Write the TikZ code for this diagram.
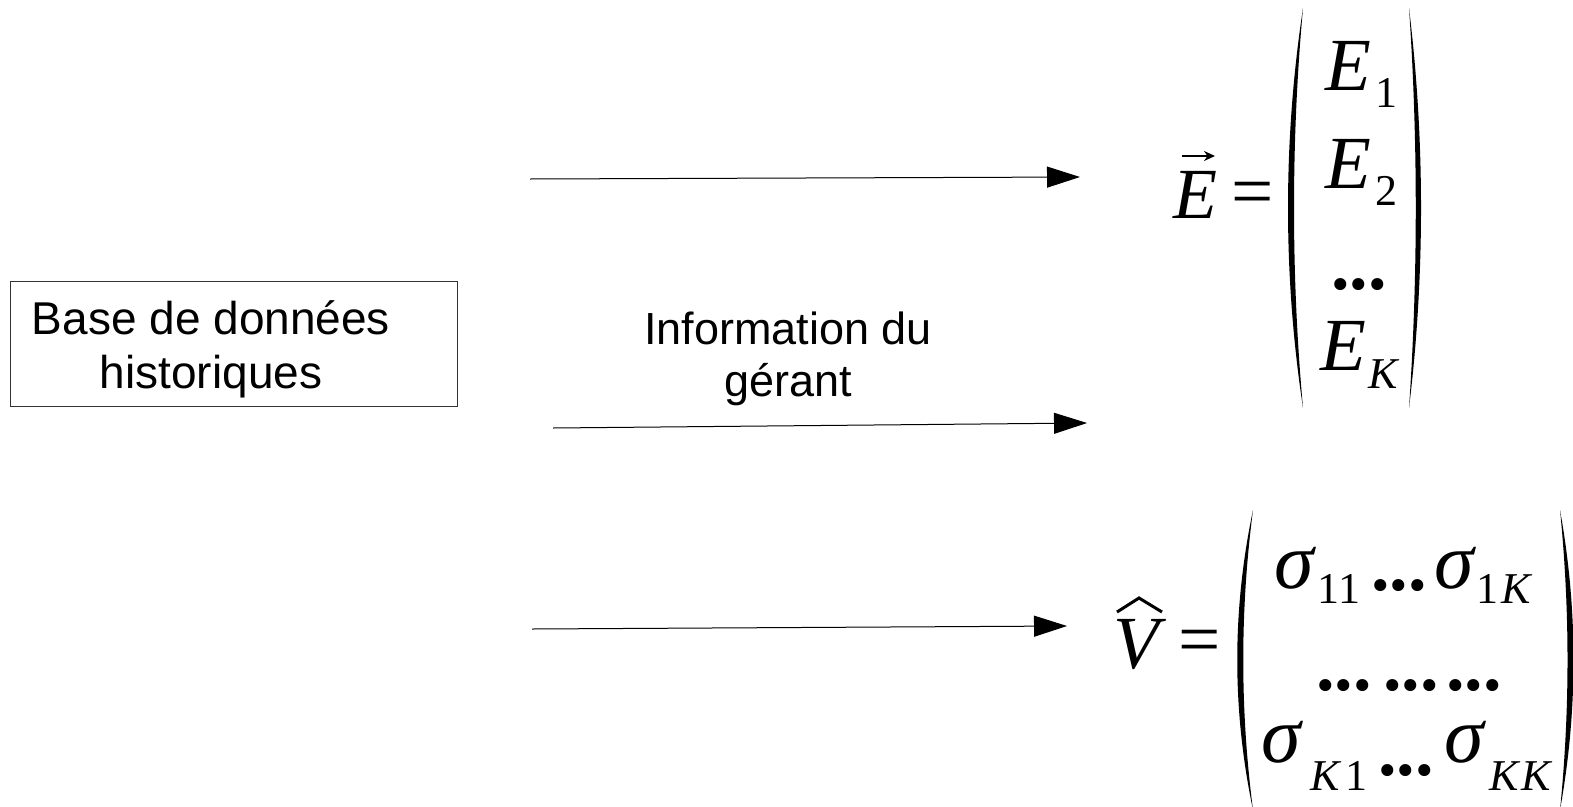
\documentclass[tikz,border=0pt]{standalone}
\usepackage{fontspec}
\setsansfont{Liberation Sans}
\newfontfamily\serifmath{Liberation Serif}
\usetikzlibrary{arrows.meta}

\newcommand{\bigit}[1]{{\fontsize{75}{75}\selectfont\itshape #1}}
\newcommand{\sig}{{\fontsize{80}{80}\selectfont\itshape σ}}
\newcommand{\lowsub}[2]{\raisebox{-#1pt}{\fontsize{44}{44}\selectfont #2}}
\newcommand{\bigdots}{{\fontsize{74}{74}\selectfont\bfseries ...}}

\begin{document}
\begin{tikzpicture}[
    x=1pt, y=-1pt,
    txt/.style={font=\sffamily\fontsize{46}{54}\selectfont, align=center, inner sep=0pt},
    mth/.style={font=\serifmath, inner sep=0pt, anchor=base west},
    flow/.style={draw=black, line width=1pt, -{Triangle[length=33pt, width=21pt]}},
    paren/.style={fill=black},
  ]
  \useasboundingbox (0,0) rectangle (1573,806);

  % source box
  \node[draw=black!80, line width=0.8pt, minimum width=447pt, minimum height=125pt,
        inner sep=0pt] (dbbox) at (233.5,343.5) {};
  \node[txt] (dbtext) at (211,349) {Base de données\\historiques};

  % arrows
  \coordinate (a1s) at (530,179);
  \coordinate (a1e) at (1080,177);
  \coordinate (a2s) at (553,428);
  \coordinate (a2e) at (1087,423);
  \coordinate (a3s) at (532,629);
  \coordinate (a3e) at (1067,626);
  \draw[flow] (a1s) -- (a1e);
  \draw[flow] (a2s) -- (a2e);
  \draw[flow] (a3s) -- (a3e);
  \node[txt, font=\sffamily\fontsize{45}{52}\selectfont] (info) at (788,359) {Information du\\gérant};

  % expected returns vector
  \node[mth] (vecE) at (1173,218) {{\fontsize{72}{72}\selectfont\itshape E}};
  \draw[line width=2.6pt, -{Stealth[length=11pt, width=10pt]}] (1182,156) -- (1215,156);
  \node[mth] (eqE) at (1231,216) {\bigit{\upshape =}};
  \fill[paren] (1303,8) .. controls (1283,140) and (1283,276) .. (1303,408)
               .. controls (1291,276) and (1291,140) .. (1303,8);
  \fill[paren] (1409,8) .. controls (1425,140) and (1425,276) .. (1409,408)
               .. controls (1418,276) and (1418,140) .. (1409,8);
  \node[mth] (e1) at (1325,90) {\bigit{E}\hspace{4pt}\lowsub{17}{1}};
  \node[mth] (e2) at (1325,188) {\bigit{E}\hspace{4pt}\lowsub{17}{2}};
  \node[mth] (edots) at (1331,289) {\bigdots};
  \node[mth] (ek) at (1320,370) {\bigit{E}\hspace{2pt}\lowsub{18}{\itshape K}};

  % covariance matrix
  \node[mth] (Vhat) at (1113,668) {\bigit{V}};
  \draw[line width=3pt] (1117,612) -- (1139,598) -- (1162,612);
  \node[mth] (eqV) at (1178,664) {\bigit{\upshape =}};
  \fill[paren] (1253,510) .. controls (1232,610) and (1232,710) .. (1253,810)
               .. controls (1240,710) and (1240,610) .. (1253,510);
  \fill[paren] (1560,510) .. controls (1578,610) and (1578,710) .. (1560,810)
               .. controls (1570,710) and (1570,610) .. (1560,510);
  \node[mth] (s11) at (1274,588) {\sig\hspace{4pt}\lowsub{15}{11}};
  \node[mth] (rowdotsA) at (1371,590) {\bigdots};
  \node[mth] (s1k) at (1434,588) {\sig\hspace{3pt}\lowsub{15}{1\hspace{3pt}\itshape K}};
  \foreach \x/\n in {1316/a, 1383/b, 1446/c}
    \node[mth] (middots\n) at (\x,690) {\bigdots};
  \node[mth] (sk1) at (1261,762) {\sig\hspace{10pt}\lowsub{28}{\itshape K\hspace{5pt}\upshape 1}};
  \node[mth] (rowdotsB) at (1378,775) {\bigdots};
  \node[mth] (skk) at (1444,762) {\sig\hspace{6pt}\lowsub{28}{\itshape K\hspace{2pt}K}};
\end{tikzpicture}
\end{document}
